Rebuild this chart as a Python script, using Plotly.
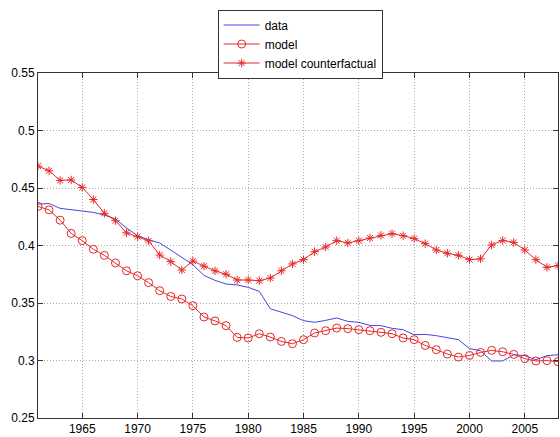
import plotly.graph_objects as go

years = list(range(1961, 2009))

data_share = [0.436, 0.4365, 0.4323, 0.431, 0.4297, 0.4288, 0.4265, 0.423, 0.4152, 0.4085,
              0.405, 0.4022, 0.396, 0.390, 0.3833, 0.374, 0.3697, 0.3665, 0.3657, 0.3636,
              0.3601, 0.345, 0.342, 0.339, 0.3346, 0.3332, 0.3349, 0.337, 0.334, 0.3332,
              0.3305, 0.3303, 0.328, 0.3268, 0.3224, 0.3227, 0.3216, 0.3196, 0.3181, 0.3103,
              0.3085, 0.2996, 0.2996, 0.305, 0.3042, 0.3007, 0.3042, 0.305]

model = [0.434, 0.431, 0.422, 0.4105, 0.4042, 0.3967, 0.3914, 0.3848, 0.378, 0.3737,
         0.3677, 0.3607, 0.3557, 0.3535, 0.3477, 0.3378, 0.3344, 0.3303, 0.3201, 0.3196,
         0.3233, 0.3204, 0.3166, 0.3146, 0.3181, 0.3239, 0.3259, 0.3282, 0.3277, 0.3268,
         0.3259, 0.3245, 0.3233, 0.3196, 0.3181, 0.3131, 0.3094, 0.3056, 0.303, 0.3044,
         0.307, 0.3088, 0.3076, 0.3053, 0.3016, 0.2996, 0.2999, 0.299]

counterfactual = [0.469, 0.465, 0.4566, 0.457, 0.4505, 0.440, 0.428, 0.4216, 0.411, 0.4077,
                  0.404, 0.3917, 0.386, 0.3787, 0.3865, 0.382, 0.378, 0.375, 0.370, 0.370,
                  0.3694, 0.3717, 0.378, 0.384, 0.3877, 0.3946, 0.3987, 0.4042, 0.4022, 0.4042,
                  0.4065, 0.4088, 0.4103, 0.4085, 0.406, 0.4016, 0.3961, 0.3932, 0.3915, 0.3877,
                  0.3884, 0.4004, 0.4044, 0.4027, 0.3961, 0.3877, 0.381, 0.3825]

x_ticks = [1965, 1970, 1975, 1980, 1985, 1990, 1995, 2000, 2005]
y_ticks = [0.25, 0.3, 0.35, 0.4, 0.45, 0.5, 0.55]
y_labels = ["0.25", "0.3", "0.35", "0.4", "0.45", "0.5", "0.55"]

red = "rgb(230,40,40)"

fig = go.Figure(data=[
    go.Scatter(x=years, y=data_share, mode="lines", name="data",
               line=dict(color="rgb(70,70,225)", width=1)),
    go.Scatter(x=years, y=model, mode="lines+markers", name="model",
               line=dict(color=red, width=1),
               marker=dict(symbol="circle-open", size=8, color=red, line=dict(width=1))),
    go.Scatter(x=years, y=counterfactual, mode="lines+markers", name="model counterfactual",
               line=dict(color=red, width=1),
               marker=dict(symbol="asterisk-open", size=7, color=red, line=dict(width=1, color=red))),
])

axis_style = dict(showline=True, linecolor="#333333", linewidth=1, mirror="allticks",
                  ticks="inside", ticklen=5, tickcolor="#333333",
                  showgrid=True, gridcolor="#aaaaaa", griddash="1px,2px", gridwidth=1,
                  zeroline=False, tickfont=dict(family="Liberation Sans, Arial", size=12, color="black"))

fig.update_layout(
    width=560, height=437,
    margin=dict(l=38, r=1, t=73, b=17),
    paper_bgcolor="white", plot_bgcolor="white",
    xaxis=dict(range=[1961, 2008], tickvals=x_ticks, **axis_style),
    yaxis=dict(range=[0.25, 0.55], tickvals=y_ticks, ticktext=y_labels, **axis_style),
    legend=dict(x=0.3455, y=1.184, xanchor="left", yanchor="top",
                bordercolor="#333333", borderwidth=1, bgcolor="white",
                font=dict(family="Liberation Sans, Arial", size=12, color="black"),
                tracegroupgap=0, itemwidth=36),
    showlegend=True,
)

fig.write_html("out.html", config={"displayModeBar": False},
               post_script="document.body.style.margin='0';document.body.style.overflow='hidden';")
